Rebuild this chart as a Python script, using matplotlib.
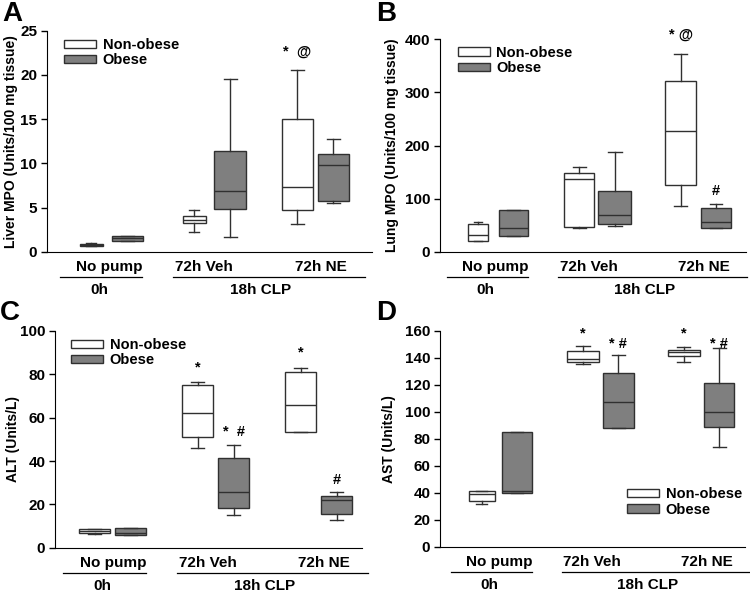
import numpy as np
import matplotlib
matplotlib.use("Agg")
import matplotlib.pyplot as plt
from matplotlib.patches import Patch

plt.rcParams['font.family'] = ['Liberation Sans', 'DejaVu Sans']
plt.rcParams['font.weight'] = 'bold'
plt.rcParams['font.size'] = 10

groups = ["No pump", "72h Veh", "72h NE"]
series = ["Non-obese", "Obese"]

# five-number summaries per box: whislo, q1, med, q3, whishi
# order: no pump NO, no pump O, veh NO, veh O, NE NO, NE O
liver = [[0.6, 0.65, 0.8, 0.9, 0.95], [1.2, 1.2, 1.6, 1.75, 1.75],
         [2.2, 3.2, 3.6, 4.0, 4.7], [1.7, 4.8, 6.9, 11.4, 19.5],
         [3.1, 4.7, 7.3, 15.0, 20.5], [5.5, 5.7, 9.8, 11.0, 12.7]]
lung = [[20, 20, 32, 52, 55], [30, 30, 44, 78, 78],
        [44, 47, 137, 148, 160], [48, 53, 70, 114, 188],
        [87, 125, 228, 322, 373], [44, 44, 55, 83, 90]]
alt = [[6.2, 6.7, 7.5, 8.8, 8.8], [5.8, 5.8, 7.0, 9.3, 9.3],
       [46, 51, 62, 75, 76.5], [15, 18.5, 25.5, 41.5, 47.5],
       [53.5, 53.5, 66, 81, 83], [13, 15.5, 22, 24, 25.5]]
ast = [[32, 33.5, 39, 41.5, 41.5], [40, 40, 41, 85, 85],
       [135, 137, 139, 145, 149], [88, 88, 107, 129, 142],
       [137, 141, 144, 146, 148], [74, 89, 100, 121, 147]]

ylabels = ["Liver MPO (Units/100 mg tissue)", "Lung MPO (Units/100 mg tissue)",
           "ALT (Units/L)", "AST (Units/L)"]
ymax = [25, 400, 100, 160]
ystep = [5, 100, 20, 20]
letters = ["A", "B", "C", "D"]

# significance marks: (box index, y value, text)
marks = [
    [(4, 21.8, "*  @")],
    [(4, 395, "* @"), (5, 102, "#")],
    [(2, 80, "*"), (3, 50, "*  #"), (4, 87, "*"), (5, 28, "#")],
    [(2, 153, "*"), (3, 145, "* #"), (4, 153, "*"), (5, 145, "* #")],
]

W, H = 750, 592
# axes pixel boxes: left, right, top, bottom
rects = [(47, 372, 30.7, 251.7), (440, 746, 39.3, 251.7),
         (55, 362, 331, 547.7), (440, 745, 330.7, 546.7)]
xlims = [(0.396, 3.55), (0.451, 3.47), (0.439, 3.42), (0.412, 3.43)]
widths = [[0.22, 0.30, 0.22, 0.31, 0.30, 0.30],
          [0.20, 0.29, 0.30, 0.33, 0.30, 0.30],
          [0.30] * 6, [0.26, 0.30, 0.32, 0.31, 0.31, 0.30]]
ylab_x = [11, 392, 13, 389]
letter_pos = [(2, 1), (376, 1), (0, 300), (376, 300)]
leg_anchor = [(0.052, 0.967), (0.058, 0.97), (0.052, 0.968), (0.613, 0.276)]

fill = ["white", "#7f7f7f"]
edge = "#303030"

fig = plt.figure(figsize=(W / 100, H / 100), dpi=100)

for i, data in enumerate([liver, lung, alt, ast]):
    l, r, t, b = rects[i]
    ax = fig.add_axes([l / W, 1 - b / H, (r - l) / W, (b - t) / H])
    pos = []
    for g in range(3):
        pos += [g + 1 - 0.175, g + 1 + 0.175]
    stats = [dict(whislo=s[0], q1=s[1], med=s[2], q3=s[3], whishi=s[4], fliers=[])
             for s in data]
    bp = ax.bxp(stats, positions=pos, widths=widths[i],
                capwidths=[w * 0.42 for w in widths[i]],
                patch_artist=True, showfliers=False,
                boxprops=dict(edgecolor=edge, linewidth=1.0),
                medianprops=dict(color=edge, linewidth=1.0),
                whiskerprops=dict(color=edge, linewidth=1.0),
                capprops=dict(color=edge, linewidth=1.0))
    for k, box in enumerate(bp['boxes']):
        box.set_facecolor(fill[k % 2])

    ax.set_xlim(*xlims[i])
    ax.set_ylim(0, ymax[i])
    ax.set_yticks(np.arange(0, ymax[i] + 1, ystep[i]))
    ax.set_xticks([])
    ax.spines['top'].set_visible(False)
    ax.spines['right'].set_visible(False)
    ax.tick_params(axis='y', direction='out', length=4, width=1, pad=3,
                   labelsize=11)
    for lab in ax.get_yticklabels():
        lab.set_fontweight('bold')

    # group labels and brackets under the axis
    for gx, name in zip([1.0, 1.92, 3.05], groups):
        ax.annotate(name, xy=(gx, 0), xycoords=('data', 'axes fraction'),
                    xytext=(0, -15), textcoords='offset pixels',
                    ha='center', va='center', fontsize=11, fontweight='bold')
    ph = b - t
    for x0, x1 in [(0.52, 1.32), (1.62, 3.48)]:
        ax.plot([x0, x1], [-25 / ph, -25 / ph], color='black', lw=0.9,
                transform=ax.get_xaxis_transform(), clip_on=False)
    for gx, name in [(0.9, "0h"), (2.47, "18h CLP")]:
        ax.annotate(name, xy=(gx, 0), xycoords=('data', 'axes fraction'),
                    xytext=(0, -38), textcoords='offset pixels',
                    ha='center', va='center', fontsize=11, fontweight='bold')

    for k, yv, txt in marks[i]:
        ax.text(pos[k], yv, txt, ha='center', va='bottom', fontsize=10.5,
                fontweight='bold', clip_on=False)

    handles = [Patch(facecolor=fill[0], edgecolor=edge, lw=1.0),
               Patch(facecolor=fill[1], edgecolor=edge, lw=1.0)]
    ax.legend(handles, series, loc='upper left', bbox_to_anchor=leg_anchor[i],
              frameon=False, borderaxespad=0, borderpad=0, handlelength=2.2,
              handleheight=0.5, handletextpad=0.45, labelspacing=0.1,
              prop=dict(weight='bold', size=10.5))

    fig.text(ylab_x[i] / W, 1 - (t + b) / 2 / H, ylabels[i], rotation=90,
             ha='center', va='center', fontsize=10, fontweight='bold')
    lx, ly = letter_pos[i]
    fig.text(lx / W, 1 - ly / H, letters[i], ha='left', va='top',
             fontsize=20, fontweight='bold')

fig.savefig("out.png", dpi=100)
